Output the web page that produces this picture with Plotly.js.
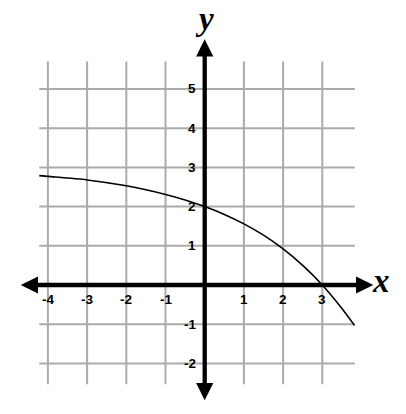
<!DOCTYPE html>
<html>
<head>
<meta charset="utf-8">
<script src="https://cdn.plot.ly/plotly-3.0.1.min.js"></script>
<style>
html, body { margin: 0; padding: 0; background: #fff; }
#chart { width: 406px; height: 414px; }
</style>
</head>
<body>
<div id="chart"></div>
<script>
// curve points
var curveX = [-4.22, -4, -3, -2, -1, -0.5, 0, 0.5, 1, 1.5, 2, 2.5, 3, 3.5, 3.82];
var curveY = [2.79, 2.77, 2.68, 2.53, 2.31, 2.17, 2.0, 1.80, 1.56, 1.27, 0.92, 0.50, 0.0, -0.60, -1.03];

// tick labels (0 is not labelled)
var xTicks = [-4, -3, -2, -1, 1, 2, 3];
var yTicks = [-2, -1, 1, 2, 3, 4, 5];

// grid lines
var gridX = [-4, -3, -2, -1, 0, 1, 2, 3];
var gridY = [-2, -1, 0, 1, 2, 3, 4, 5];

// extents of grid and axes
var gridLeft = -4.22, gridRight = 3.83, gridBottom = -2.53, gridTop = 5.70;
var axisLeft = -4.73, axisRight = 4.30, axisBottom = -2.98, axisTop = 6.27;

var gridColor = '#ababab';
var tickFont = {family: '"Liberation Sans", Arial, sans-serif', size: 13.5, weight: 'bold', color: '#000'};
var letterFont = {family: '"Liberation Serif", serif', size: 33, weight: 'bold', style: 'italic', color: '#000'};

var shapes = [];
for (let i = 0; i < gridX.length; i++) {
	shapes.push({type: 'line', layer: 'below', xref: 'x', yref: 'y',
		x0: gridX[i], x1: gridX[i], y0: gridBottom, y1: gridTop,
		line: {color: gridColor, width: 2}});
}
for (let i = 0; i < gridY.length; i++) {
	shapes.push({type: 'line', layer: 'below', xref: 'x', yref: 'y',
		x0: gridLeft, x1: gridRight, y0: gridY[i], y1: gridY[i],
		line: {color: gridColor, width: 2}});
}

var annotations = [];

// the two axes, arrow at both ends
function axisArrow(x0, y0, x1, y1) {
	return {xref: 'x', yref: 'y', axref: 'x', ayref: 'y',
		x: x1, y: y1, ax: x0, ay: y0, text: '',
		showarrow: true, arrowside: 'end+start',
		arrowhead: 2, startarrowhead: 2,
		arrowsize: 0.8, startarrowsize: 0.8,
		arrowwidth: 4.3, arrowcolor: '#000'};
}
annotations.push(axisArrow(axisLeft, 0, axisRight, 0));
annotations.push(axisArrow(0, axisBottom, 0, axisTop));

for (let i = 0; i < xTicks.length; i++) {
	annotations.push({xref: 'x', yref: 'y', x: xTicks[i], y: 0, yshift: -15,
		text: String(xTicks[i]), showarrow: false,
		xanchor: 'center', yanchor: 'middle', font: tickFont});
}
for (let i = 0; i < yTicks.length; i++) {
	annotations.push({xref: 'x', yref: 'y', x: 0, y: yTicks[i], xshift: -7,
		text: String(yTicks[i]), showarrow: false,
		xanchor: 'right', yanchor: 'middle', font: tickFont});
}

annotations.push({xref: 'x', yref: 'y', x: 0, y: 6.78, text: 'y',
	showarrow: false, xanchor: 'center', yanchor: 'middle', font: letterFont});
annotations.push({xref: 'x', yref: 'y', x: 4.5, y: 0.1, text: 'x',
	showarrow: false, xanchor: 'center', yanchor: 'middle', font: letterFont});

var trace = {
	x: curveX,
	y: curveY,
	type: 'scatter',
	mode: 'lines',
	line: {color: '#000', width: 1.6, shape: 'spline', smoothing: 0.8},
	hoverinfo: 'none'
};

var layout = {
	width: 406,
	height: 414,
	margin: {l: 0, r: 0, t: 0, b: 0},
	paper_bgcolor: '#fff',
	plot_bgcolor: '#fff',
	showlegend: false,
	xaxis: {range: [-5.222, 5.135], visible: false, fixedrange: true},
	yaxis: {range: [-3.291, 7.270], visible: false, fixedrange: true},
	shapes: shapes,
	annotations: annotations
};

Plotly.newPlot('chart', [trace], layout, {staticPlot: true});
</script>
</body>
</html>
